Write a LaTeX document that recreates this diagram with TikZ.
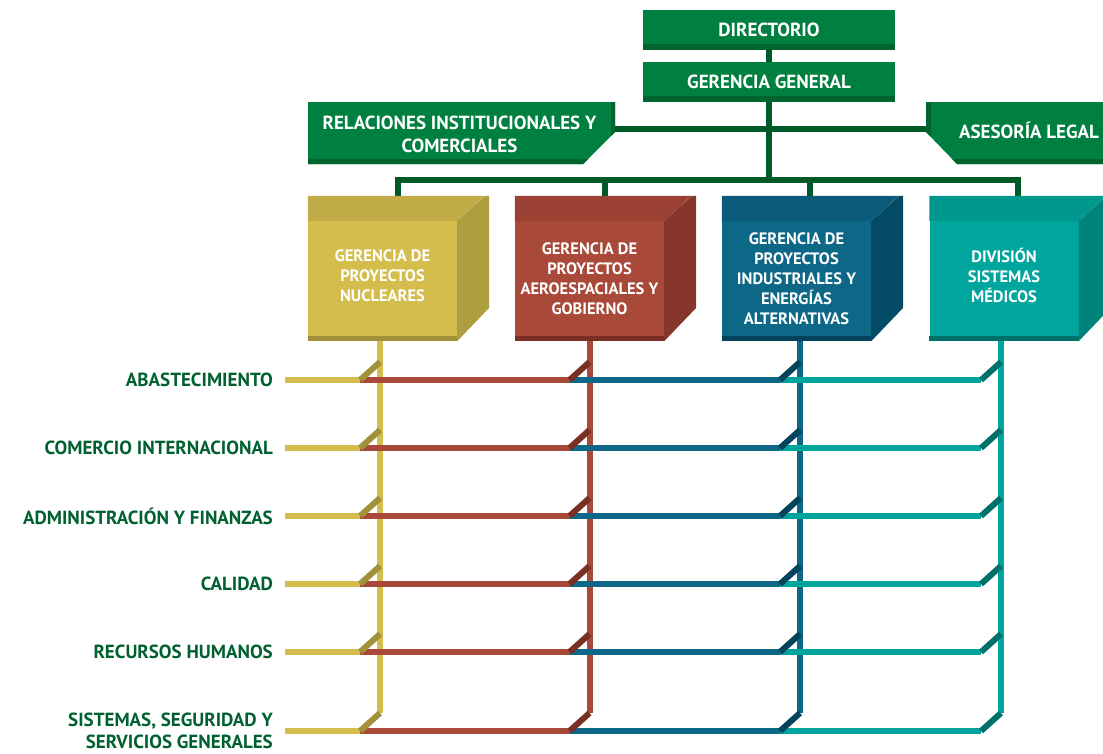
\documentclass[tikz,border=0pt]{standalone}
\usepackage{fontspec}
\setmainfont{PT Sans}
\usetikzlibrary{calc}
\definecolor{boxgreen}{HTML}{008040}
\definecolor{stripgreen}{HTML}{00642F}
\definecolor{conngreen}{HTML}{005A28}
\definecolor{labgreen}{HTML}{006030}
\definecolor{yfront}{HTML}{D4BD4C}
\definecolor{ytop}{HTML}{C2AC47}
\definecolor{yside}{HTML}{AD9E40}
\definecolor{ydark}{HTML}{A0913A}
\definecolor{rfront}{HTML}{A8493A}
\definecolor{rtop}{HTML}{9B4133}
\definecolor{rside}{HTML}{86362A}
\definecolor{rdark}{HTML}{7A2F25}
\definecolor{bfront}{HTML}{0D6888}
\definecolor{btop}{HTML}{0A5B79}
\definecolor{bside}{HTML}{044B65}
\definecolor{bdark}{HTML}{03435C}
\definecolor{tfront}{HTML}{00A69E}
\definecolor{ttop}{HTML}{00978F}
\definecolor{tside}{HTML}{00837A}
\definecolor{tdark}{HTML}{00706A}
\begin{document}
\begin{tikzpicture}[x=1pt,y=-1pt,
  gbox/.style={fill=boxgreen, minimum width=252pt, minimum height=39pt, inner sep=0pt,
    text=white, font=\bfseries\fontsize{19}{22}\selectfont,
    path picture={\fill[stripgreen] ([yshift=-1pt]path picture bounding box.south west) rectangle ([yshift=5pt]path picture bounding box.south east);}},
  gtext/.style={text=white, font=\bfseries\fontsize{19}{23.3}\selectfont, align=center, inner sep=0pt},
  conn/.style={draw=conngreen, line width=6pt},
  cubefront/.style={minimum width=149pt, minimum height=115pt, inner sep=0pt, text=white,
    font=\bfseries\fontsize{16.5}{20}\selectfont, align=center},
  cubetext/.style={text=white, font=\bfseries\fontsize{16.5}{20}\selectfont, align=center, inner sep=0pt},
  lab/.style={anchor=east, text=labgreen, font=\bfseries\fontsize{19}{22.3}\selectfont, inner sep=0pt, align=right},
  hline/.style={line width=6pt},
  kline/.style={line width=6pt},
]
\useasboundingbox (0,0) rectangle (1103,753);

% top boxes
\node[gbox] (dir) at (769,29.5) {DIRECTORIO};
\node[gbox] (gg) at (769,81.5) {GERENCIA GENERAL};

% side boxes
\fill[boxgreen] (308,102) -- (615,102) -- (615,132) -- (583,164) -- (308,164) -- cycle;
\fill[stripgreen] (611,102) -- (615,102) -- (615,132) -- (611,136) -- cycle;
\fill[stripgreen] (308,159) -- (588,159) -- (583,164) -- (308,164) -- cycle;
\node[gtext] (rel) at (459.5,134.5) {RELACIONES INSTITUCIONALES Y\\COMERCIALES};
\coordinate (relR) at (615,128.5);

\fill[boxgreen] (926,102) -- (1103,102) -- (1103,164) -- (957,164) -- (926,132) -- cycle;
\fill[stripgreen] (926,102) -- (931,102) -- (931,137) -- (926,132) -- cycle;
\fill[stripgreen] (952,159) -- (1103,159) -- (1103,164) -- (957,164) -- cycle;
\node[gtext] (ase) at (1029,130.5) {ASESORÍA LEGAL};
\coordinate (aseL) at (926,128.5);

% cube top anchors and bus
\coordinate (t1) at (397.5,197);
\coordinate (t2) at (604.5,197);
\coordinate (t3) at (810,197);
\coordinate (t4) at (1017.5,197);
\coordinate (bus) at (768,180);

\draw[conn] (dir.south) -- (gg.north);
\draw[conn] (relR) -- (aseL);
\draw[conn] (gg.south) -- (gg.south |- bus);
\draw[conn, line join=miter] (t1) -- (t1 |- bus) -- (t4 |- bus) -- (t4);
\draw[conn] (t2) -- (t2 |- bus);
\draw[conn] (t3) -- (t3 |- bus);

% cubes
\foreach \n/\cx/\fc/\tc/\sc/\dc/\dy/\txt in {
  c1/382.5/yfront/ytop/yside/ydark/-3/{GERENCIA DE\\PROYECTOS\\NUCLEARES},
  c2/589.5/rfront/rtop/rside/rdark/0/{GERENCIA DE\\PROYECTOS\\AEROESPACIALES Y\\GOBIERNO},
  c3/796.5/bfront/btop/bside/bdark/0/{GERENCIA DE\\PROYECTOS\\INDUSTRIALES Y\\ENERGÍAS\\ALTERNATIVAS},
  c4/1004/tfront/ttop/tside/tdark/-3/{DIVISIÓN\\SISTEMAS\\MÉDICOS}} {
  \node[cubefront, fill=\fc] (\n) at (\cx,278.5) {};
  \node[cubetext] (\n t) at ($(\n.center)+(0,\dy)$) {\txt};
  \fill[\tc] (\n.north west) -- ++(0,-25) -- ++(177,0) -- (\n.north east) -- cycle;
  \fill[\sc] (\n.north east) -- ++(28,-25) -- ++(4,0) -- ++(0,112) -- ($(\n.south east)+(0,5)$) -- cycle;
  \fill[\dc] (\n.south west) rectangle ($(\n.south east)+(0,5)$);
}

% bottoms of cubes for vertical lines
\coordinate (b1) at (380,341);
\coordinate (b2) at (589.5,341);
\coordinate (b3) at (800,341);
\coordinate (b4) at (1001,341);

% row coordinates
\foreach \y [count=\i] in {380,448,516,584,652,731} {
  \foreach \vx [count=\j] in {380,589.5,800,1001} {
    \coordinate (k\i-\j) at (\vx-20,\y);
    \coordinate (q\i-\j) at (\vx,\y-18);
  }
  \coordinate (s\i) at (285,\y);
}

% verticals
\draw[hline, yfront] (b1) -- (q6-1);
\draw[hline, rfront] (b2) -- (q6-2);
\draw[hline, bfront] (b3) -- (q6-3);
\draw[hline, tfront] (b4) -- (q6-4);

% horizontals and kinks
\foreach \i in {1,...,6} {
  \draw[hline, yfront] (s\i) -- (k\i-1);
  \draw[hline, rfront] (k\i-1) -- (k\i-2);
  \draw[hline, bfront] (k\i-2) -- (k\i-3);
  \draw[hline, tfront] (k\i-3) -- (k\i-4);
  \draw[kline, ydark] (k\i-1) -- (q\i-1);
  \draw[kline, rdark] (k\i-2) -- (q\i-2);
  \draw[kline, bdark] (k\i-3) -- (q\i-3);
  \draw[kline, tdark] (k\i-4) -- (q\i-4);
}

% labels
\node[lab] (l1) at (273,380) {ABASTECIMIENTO};
\node[lab] (l2) at (273,448) {COMERCIO INTERNACIONAL};
\node[lab] (l3) at (273,516) {ADMINISTRACIÓN Y FINANZAS};
\node[lab] (l4) at (273,584) {CALIDAD};
\node[lab] (l5) at (273,652) {RECURSOS HUMANOS};
\node[lab] (l6) at (273,731) {SISTEMAS, SEGURIDAD Y\\SERVICIOS GENERALES};
\end{tikzpicture}
\end{document}
